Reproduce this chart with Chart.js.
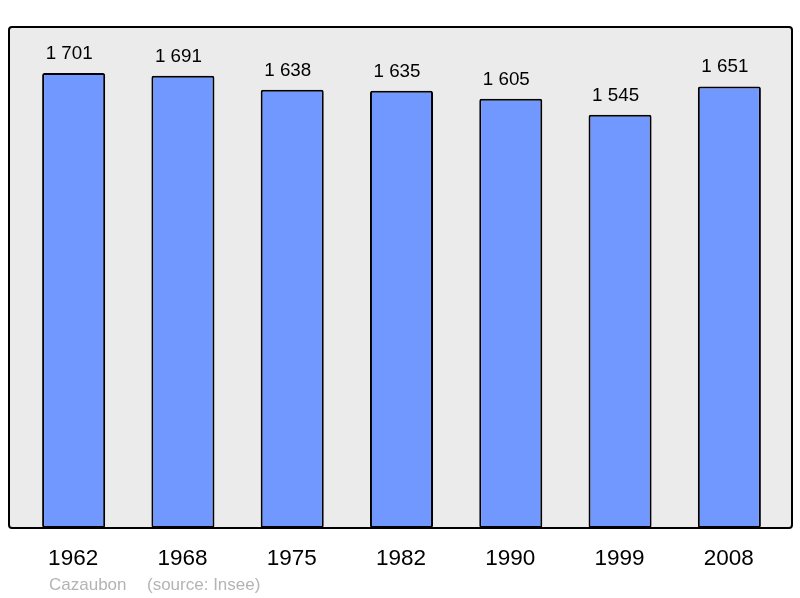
<!DOCTYPE html>
<html>
<head>
<meta charset="utf-8">
<script src="https://cdn.jsdelivr.net/npm/chart.js@4"></script>
<style>
html,body{margin:0;padding:0;background:#fff;}
#wrap{width:800px;height:598px;position:relative;}
</style>
</head>
<body>
<div id="wrap"><canvas id="c" width="800" height="598"></canvas></div>
<script>
const years = ["1962","1968","1975","1982","1990","1999","2008"];
const population = [1701,1691,1638,1635,1605,1545,1651];
const valueLabels = ["1 701","1 691","1 638","1 635","1 605","1 545","1 651"];
const commune = "Cazaubon";
const source = "(source: Insee)";

const FONT = '"Liberation Sans", Arial, sans-serif';

function roundRect(ctx,x,y,w,h,r){
  ctx.beginPath();
  ctx.moveTo(x+r,y);
  ctx.lineTo(x+w-r,y);
  ctx.quadraticCurveTo(x+w,y,x+w,y+r);
  ctx.lineTo(x+w,y+h-r);
  ctx.quadraticCurveTo(x+w,y+h,x+w-r,y+h);
  ctx.lineTo(x+r,y+h);
  ctx.quadraticCurveTo(x,y+h,x,y+h-r);
  ctx.lineTo(x,y+r);
  ctx.quadraticCurveTo(x,y,x+r,y);
  ctx.closePath();
}

const framePlugin = {
  id:'frame',
  beforeDatasetsDraw(chart){
    const ctx = chart.ctx;
    const a = chart.chartArea;
    ctx.save();
    roundRect(ctx, 9, a.top, 783, a.bottom - a.top, 3);
    ctx.fillStyle = '#ebebeb';
    ctx.fill();
    ctx.restore();
  },
  afterDatasetsDraw(chart){
    const ctx = chart.ctx;
    const a = chart.chartArea;
    const meta = chart.getDatasetMeta(0);
    const xs = chart.scales.x;
    ctx.save();
    roundRect(ctx, 9, a.top, 783, a.bottom - a.top, 3);
    ctx.lineWidth = 2;
    ctx.strokeStyle = '#000';
    ctx.stroke();
    ctx.fillStyle = '#000';
    ctx.textAlign = 'center';
    ctx.textBaseline = 'alphabetic';
    ctx.font = '18.8px ' + FONT;
    meta.data.forEach((bar,i)=>{
      ctx.fillText(valueLabels[i], bar.x - 4.5, bar.y - 14);
    });
    ctx.font = '22.5px ' + FONT;
    years.forEach((y,i)=>{
      ctx.fillText(y, xs.getPixelForValue(i) - 0.5, 564.5);
    });
    ctx.textAlign = 'left';
    ctx.fillStyle = '#b4b4b4';
    ctx.font = '17px ' + FONT;
    ctx.fillText(commune, 49, 590);
    ctx.fillText(source, 147, 590);
    ctx.restore();
  }
};

new Chart(document.getElementById('c'), {
  type:'bar',
  data:{
    labels: years,
    datasets:[{
      data: population,
      backgroundColor:'#7098ff',
      borderColor:'#000',
      borderWidth:2,
      borderRadius:2,
      borderSkipped:false,
      categoryPercentage:1,
      barPercentage:0.577
    }]
  },
  options:{
    responsive:false,
    animation:false,
    devicePixelRatio:1,
    layout:{padding:{left:19,right:16,top:27,bottom:70}},
    plugins:{legend:{display:false},tooltip:{enabled:false}},
    scales:{
      x:{display:false},
      y:{display:false,min:0,max:1873}
    }
  },
  plugins:[framePlugin]
});
</script>
</body>
</html>
